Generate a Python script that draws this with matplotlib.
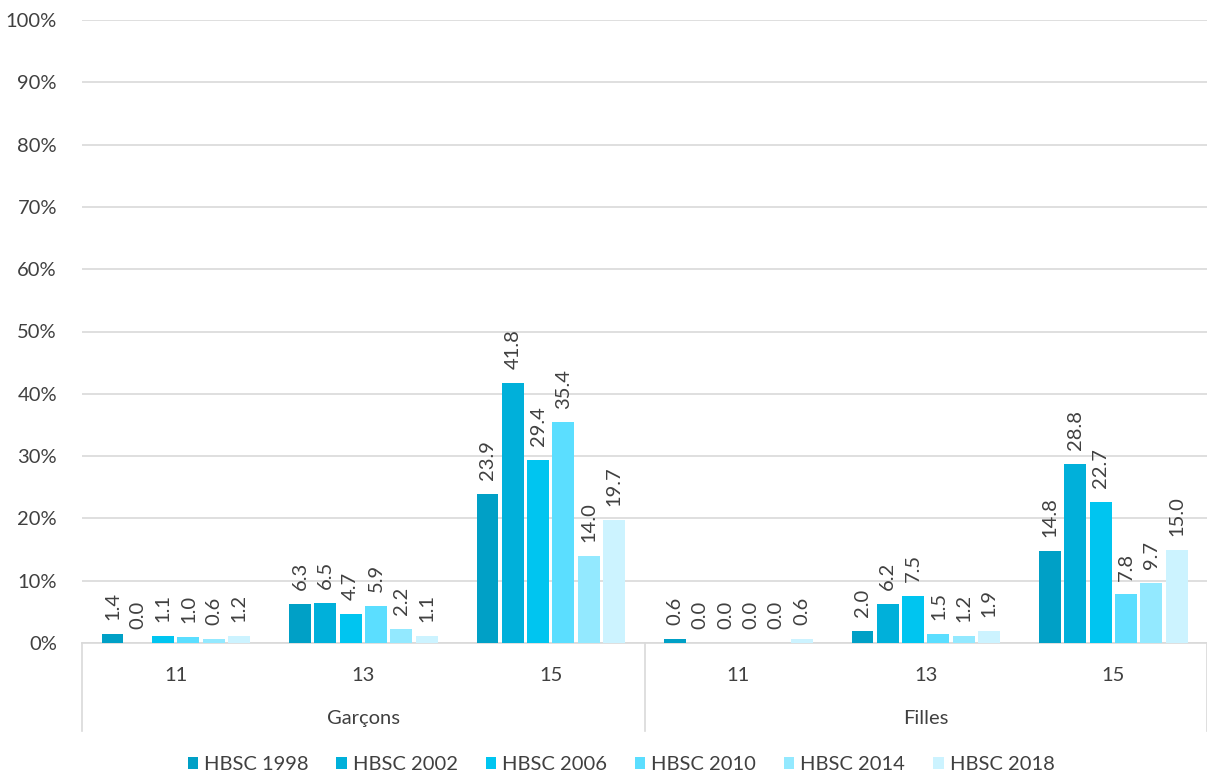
import matplotlib
matplotlib.use("Agg")
import matplotlib.pyplot as plt
import numpy as np

plt.rcParams['font.family'] = ['Lato', 'DejaVu Sans']

groups = ["Garçons", "Filles"]
ages = ["11", "13", "15"]
series = ["HBSC 1998", "HBSC 2002", "HBSC 2006", "HBSC 2010", "HBSC 2014", "HBSC 2018"]
colors = ["#00A0C6", "#00B0DA", "#00C5F0", "#5BDEFF", "#93E9FF", "#CCF3FF"]

# values per series, categories ordered: Garçons 11,13,15, Filles 11,13,15
hbsc1998 = [1.4, 6.3, 23.9, 0.6, 2.0, 14.8]
hbsc2002 = [0.0, 6.5, 41.8, 0.0, 6.2, 28.8]
hbsc2006 = [1.1, 4.7, 29.4, 0.0, 7.5, 22.7]
hbsc2010 = [1.0, 5.9, 35.4, 0.0, 1.5, 7.8]
hbsc2014 = [0.6, 2.2, 14.0, 0.0, 1.2, 9.7]
hbsc2018 = [1.2, 1.1, 19.7, 0.6, 1.9, 15.0]
values = [hbsc1998, hbsc2002, hbsc2006, hbsc2010, hbsc2014, hbsc2018]

fig = plt.figure(figsize=(12.07, 7.74), dpi=100)
ax = fig.add_axes([82/1207, 131/774, (1207-82)/1207, (643-20)/774])

n_cat = len(groups) * len(ages)
x = np.arange(n_cat)
pitch = 0.135
width = 0.117
txt = "#404040"
fs = 14.5
for i, (name, vals, c) in enumerate(zip(series, values, colors)):
    xs = x + (i - 2.5) * pitch
    ax.bar(xs, vals, width=width, color=c, label=name, zorder=3)
    for xi, v in zip(xs, vals):
        ax.annotate(f"{v:.1f}", (xi, v), xytext=(0, 10), textcoords="offset points",
                    rotation=90, ha="center", va="bottom", fontsize=fs, color=txt)

ax.set_xlim(-0.5, n_cat - 0.5)
ax.set_ylim(0, 100)
ax.set_yticks(np.arange(0, 101, 10))
ax.set_yticklabels([f"{v}%" for v in range(0, 101, 10)], fontsize=fs, color=txt)
ax.yaxis.grid(True, color="#D9D9D9", linewidth=1.2, zorder=0)
ax.tick_params(axis="y", length=0, pad=18)
ax.tick_params(axis="x", length=0)
ax.set_xticks([])
for s in ["top", "right", "left"]:
    ax.spines[s].set_visible(False)
ax.spines["bottom"].set_color("#D9D9D9")
ax.spines["bottom"].set_linewidth(1.2)

trans = ax.get_xaxis_transform()
for j, a in enumerate(ages * len(groups)):
    ax.text(j, -0.052, a, transform=trans, ha="center", va="center", fontsize=fs, color=txt)
for g, name in enumerate(groups):
    ax.text(g * 3 + 1, -0.121, name, transform=trans, ha="center", va="center", fontsize=fs, color=txt)
for xb in [-0.5, 2.5, 5.5]:
    ax.plot([xb, xb], [0, -0.141], transform=trans, color="#D9D9D9", lw=1.2, clip_on=False)

leg = fig.legend(loc="center", bbox_to_anchor=(621/1207, 1 - 765/774), ncol=6, frameon=False,
                 fontsize=fs, handlelength=0.5, handleheight=0.55, handletextpad=0.3,
                 columnspacing=1.4, labelcolor=txt)

fig.savefig("out.png", dpi=100)
